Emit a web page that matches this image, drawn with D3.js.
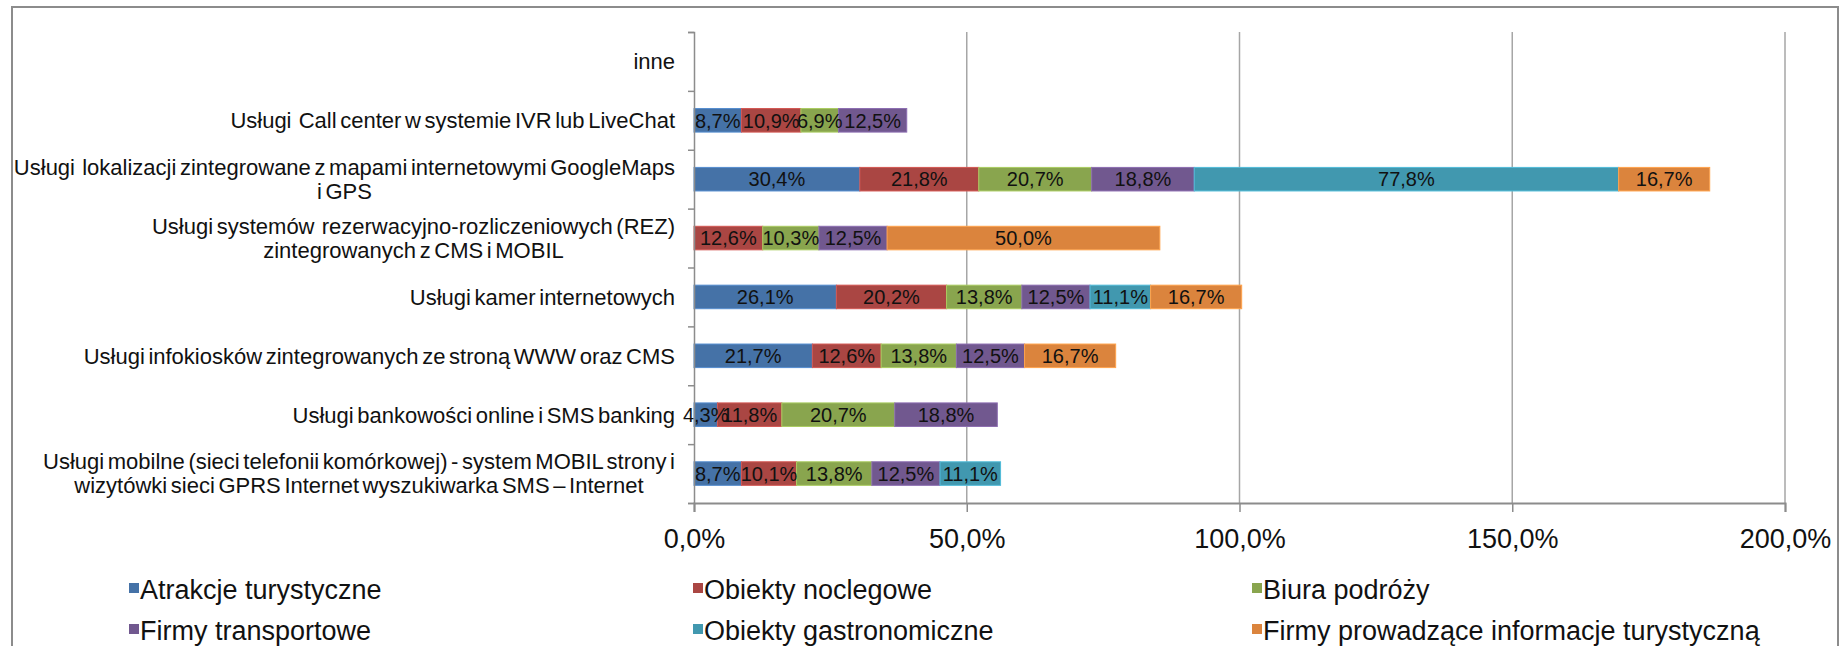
<!DOCTYPE html>
<html>
<head>
<meta charset="utf-8">
<script src="https://cdn.jsdelivr.net/npm/d3@7"></script>
<style>
  html, body { margin: 0; padding: 0; background: #fff; }
  svg { display: block; }
  text { font-family: "Liberation Sans", Arial, sans-serif; white-space: pre; }
</style>
</head>
<body>
<svg id="chart" width="1841" height="646"></svg>
<script>
// Categories from top to bottom; multi-line labels are split with "\n"
const categories = [
  "inne",
  "Usługi  Call center w systemie IVR lub LiveChat",
  "Usługi  lokalizacji zintegrowane z mapami internetowymi GoogleMaps\ni GPS",
  "Usługi systemów  rezerwacyjno-rozliczeniowych (REZ)\nzintegrowanych z CMS i MOBIL",
  "Usługi kamer internetowych",
  "Usługi infokiosków zintegrowanych ze stroną WWW oraz CMS",
  "Usługi bankowości online i SMS banking",
  "Usługi mobilne (sieci telefonii komórkowej) - system MOBIL strony i\nwizytówki sieci GPRS Internet wyszukiwarka SMS – Internet"
];

// Series names (legend order)
const seriesNames = [
  "Atrakcje turystyczne",
  "Obiekty noclegowe",
  "Biura podróży",
  "Firmy transportowe",
  "Obiekty gastronomiczne",
  "Firmy prowadzące informacje turystyczną"
];

// Values in %, one per category (same order as categories)
const atrakcje      = [0, 8.7, 30.4, 0,    26.1, 21.7, 4.3,  8.7];
const noclegowe     = [0, 10.9, 21.8, 12.6, 20.2, 12.6, 11.8, 10.1];
const biura         = [0, 6.9, 20.7, 10.3, 13.8, 13.8, 20.7, 13.8];
const transportowe  = [0, 12.5, 18.8, 12.5, 12.5, 12.5, 18.8, 12.5];
const gastronomiczne= [0, 0,    77.8, 0,    11.1, 0,    0,    11.1];
const informacja    = [0, 0,    16.7, 50.0, 16.7, 16.7, 0,    0];

const xTicks = [0, 50, 100, 150, 200];

const seriesValues = [atrakcje, noclegowe, biura, transportowe, gastronomiczne, informacja];
const colors = ["#4572A7", "#AA4643", "#89A54E", "#71588F", "#4198AF", "#DB843D"];

const svg = d3.select("#chart");
const fmt = v => v.toFixed(1).replace(".", ",") + "%";

// Outer frame
svg.append("rect")
  .attr("x", 12).attr("y", 7).attr("width", 1826).attr("height", 660)
  .attr("fill", "none").attr("stroke", "#8c8c8c").attr("stroke-width", 2);

const plot = { left: 694, right: 1785, top: 32, bottom: 503 };

const x = d3.scaleLinear().domain([0, 200]).range([plot.left, plot.right]);
const y = d3.scaleBand().domain(categories).range([plot.top, plot.bottom]).padding(0);
const yEdge = d3.scaleLinear().domain([0, categories.length]).range([plot.top, plot.bottom]);
const barH = y.bandwidth() / 2.5;

// Vertical gridlines
svg.append("g")
  .selectAll("line")
  .data(xTicks.filter(d => d > 0))
  .join("line")
  .attr("x1", d => x(d)).attr("x2", d => x(d))
  .attr("y1", plot.top).attr("y2", plot.bottom)
  .attr("stroke", "#a6a6a6").attr("stroke-width", 1.5);

// Stacked segments
const stackData = categories.map((c, i) => {
  const o = { cat: c };
  seriesNames.forEach((s, j) => { o[s] = seriesValues[j][i]; });
  return o;
});
const stacked = d3.stack().keys(seriesNames)(stackData);

const segs = svg.append("g");
stacked.forEach((layer, j) => {
  segs.append("g")
    .selectAll("rect")
    .data(layer.filter(d => d[1] - d[0] > 0))
    .join("rect")
    .attr("x", d => x(d[0]))
    .attr("width", d => x(d[1]) - x(d[0]))
    .attr("y", d => y(d.data.cat) + (y.bandwidth() - barH) / 2)
    .attr("height", barH)
    .attr("fill", colors[j])
    .attr("stroke", d3.color(colors[j]).brighter(0.6))
    .attr("stroke-width", 1);
});

// Segment value labels
stacked.forEach((layer, j) => {
  svg.append("g")
    .selectAll("text")
    .data(layer.filter(d => d[1] - d[0] > 0))
    .join("text")
    .attr("x", d => (x(d[0]) + x(d[1])) / 2)
    .attr("y", d => y(d.data.cat) + y.bandwidth() / 2)
    .attr("dy", "0.36em")
    .attr("text-anchor", "middle")
    .attr("font-size", 20)
    .attr("fill", "#111")
    .text(d => fmt(d[1] - d[0]));
});

// Left axis (ticks at category boundaries)
const yAxis = svg.append("g")
  .attr("transform", `translate(${plot.left},0)`)
  .call(d3.axisLeft(yEdge).ticks(categories.length).tickSize(6).tickFormat(""));
yAxis.select(".domain").attr("stroke", "#8c8c8c").attr("stroke-width", 1.5);
yAxis.selectAll(".tick line").attr("stroke", "#8c8c8c").attr("stroke-width", 1.5);

// Bottom axis
const xAxis = svg.append("g")
  .attr("transform", `translate(0,${plot.bottom})`)
  .call(d3.axisBottom(x).tickValues(xTicks).tickSize(9).tickPadding(17).tickFormat(fmt));
xAxis.select(".domain").attr("stroke", "#8c8c8c").attr("stroke-width", 2);
xAxis.selectAll(".tick line").attr("stroke", "#8c8c8c").attr("stroke-width", 1.5);
xAxis.selectAll(".tick text")
  .attr("font-family", "Liberation Sans, Arial, sans-serif")
  .attr("font-size", 27).attr("fill", "#111");

// Category labels: block right-aligned to the axis, lines centered within the block
const catG = svg.append("g");
const lineH = 24;
categories.forEach(c => {
  const lines = c.split("\n");
  const t = catG.append("text")
    .attr("font-size", 22).attr("fill", "#111")
    .attr("word-spacing", -2.5)
    .attr("text-anchor", "middle");
  const cy = y(c) + y.bandwidth() / 2;
  lines.forEach((ln, k) => {
    t.append("tspan")
      .attr("y", cy + (k - (lines.length - 1) / 2) * lineH)
      .attr("dy", "0.36em")
      .text(ln);
  });
  // measure the widest line, then centre the block so its right edge sits next to the axis
  const widths = [];
  t.selectAll("tspan").each(function () {
    widths.push(this.getBBox().width);
  });
  const w = d3.max(widths);
  const cx = plot.left - 19 - w / 2;
  t.selectAll("tspan").attr("x", cx);
});

// Legend
const legendCols = [129, 693, 1252];
const legendRows = [589, 630];
const leg = svg.append("g");
seriesNames.forEach((s, j) => {
  const lx = legendCols[j % 3], ly = legendRows[Math.floor(j / 3)];
  leg.append("rect")
    .attr("x", lx).attr("y", ly - 6).attr("width", 10).attr("height", 10)
    .attr("fill", colors[j]);
  leg.append("text")
    .attr("x", lx + 11).attr("y", ly)
    .attr("dy", "0.36em")
    .attr("font-size", 27).attr("fill", "#111")
    .text(s);
});
</script>
</body>
</html>
